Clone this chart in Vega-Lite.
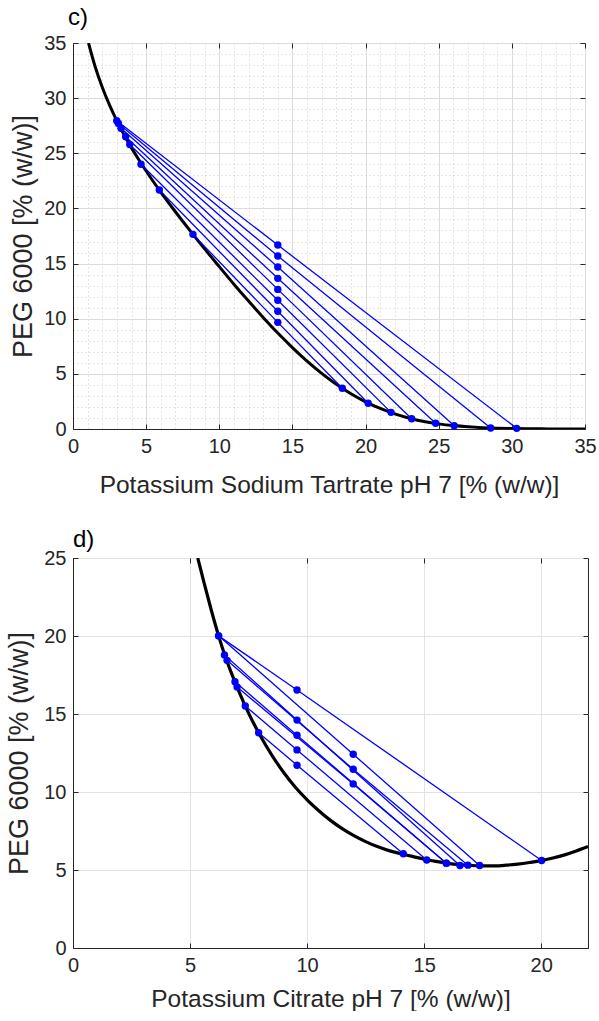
{
  "$schema": "https://vega.github.io/schema/vega-lite/v6.json",
  "background": "white",
  "padding": {"left": 5, "top": 5, "right": 0, "bottom": 0},
  "spacing": 30,
  "align": "none",
  "datasets": {
    "curveC": [
      {"x": 1.06, "y": 35.0}, {"x": 1.5, "y": 32.92}, {"x": 2, "y": 30.99}, {"x": 2.5, "y": 29.36},
      {"x": 3, "y": 27.94}, {"x": 3.5, "y": 26.66}, {"x": 4, "y": 25.49}, {"x": 4.5, "y": 24.41},
      {"x": 5, "y": 23.39}, {"x": 5.5, "y": 22.42}, {"x": 6, "y": 21.48}, {"x": 6.5, "y": 20.58},
      {"x": 7, "y": 19.7}, {"x": 7.5, "y": 18.84}, {"x": 8, "y": 17.99}, {"x": 9, "y": 16.33},
      {"x": 10, "y": 14.72}, {"x": 11, "y": 13.13}, {"x": 12, "y": 11.6}, {"x": 13, "y": 10.12},
      {"x": 14, "y": 8.7}, {"x": 15, "y": 7.38}, {"x": 16, "y": 6.15}, {"x": 17, "y": 5.04},
      {"x": 18, "y": 4.05}, {"x": 19, "y": 3.19}, {"x": 20, "y": 2.46}, {"x": 21, "y": 1.86},
      {"x": 22, "y": 1.37}, {"x": 23, "y": 0.98}, {"x": 24, "y": 0.685}, {"x": 25, "y": 0.466},
      {"x": 26, "y": 0.308}, {"x": 27, "y": 0.197}, {"x": 28, "y": 0.122}, {"x": 29, "y": 0.074},
      {"x": 30, "y": 0.043}, {"x": 31, "y": 0.024}, {"x": 32, "y": 0.013}, {"x": 33, "y": 0.006},
      {"x": 35, "y": 0.001}
    ],
    "tieC": [
      {"tie": 1, "o": 1, "x": 2.99, "y": 27.95}, {"tie": 1, "o": 2, "x": 14, "y": 16.68}, {"tie": 1, "o": 3, "x": 30.33, "y": 0.06},
      {"tie": 2, "o": 1, "x": 3.1, "y": 27.7}, {"tie": 2, "o": 2, "x": 14, "y": 15.69}, {"tie": 2, "o": 3, "x": 28.55, "y": 0.09},
      {"tie": 3, "o": 1, "x": 3.28, "y": 27.26}, {"tie": 3, "o": 2, "x": 14, "y": 14.69}, {"tie": 3, "o": 3, "x": 26.06, "y": 0.3},
      {"tie": 4, "o": 1, "x": 3.6, "y": 26.5}, {"tie": 4, "o": 2, "x": 14, "y": 13.66}, {"tie": 4, "o": 3, "x": 24.79, "y": 0.52},
      {"tie": 5, "o": 1, "x": 3.88, "y": 25.8}, {"tie": 5, "o": 2, "x": 14, "y": 12.66}, {"tie": 5, "o": 3, "x": 23.15, "y": 0.93},
      {"tie": 6, "o": 1, "x": 4.65, "y": 24.0}, {"tie": 6, "o": 2, "x": 14, "y": 11.67}, {"tie": 6, "o": 3, "x": 21.74, "y": 1.51},
      {"tie": 7, "o": 1, "x": 5.9, "y": 21.67}, {"tie": 7, "o": 2, "x": 14, "y": 10.67}, {"tie": 7, "o": 3, "x": 20.18, "y": 2.33},
      {"tie": 8, "o": 1, "x": 8.2, "y": 17.65}, {"tie": 8, "o": 2, "x": 14, "y": 9.67}, {"tie": 8, "o": 3, "x": 18.41, "y": 3.69}
    ],
    "curveD": [
      {"x": 5.33, "y": 25.0}, {"x": 5.6, "y": 23.4}, {"x": 5.9, "y": 21.7}, {"x": 6.22, "y": 20.01},
      {"x": 6.5, "y": 18.7}, {"x": 6.8, "y": 17.5}, {"x": 7.1, "y": 16.4}, {"x": 7.4, "y": 15.38},
      {"x": 7.7, "y": 14.45}, {"x": 8.0, "y": 13.6}, {"x": 8.5, "y": 12.35}, {"x": 9.0, "y": 11.25},
      {"x": 9.5, "y": 10.3}, {"x": 10.0, "y": 9.5}, {"x": 10.5, "y": 8.8}, {"x": 11.0, "y": 8.18},
      {"x": 11.5, "y": 7.65}, {"x": 12.0, "y": 7.2}, {"x": 12.5, "y": 6.82}, {"x": 13.0, "y": 6.5},
      {"x": 13.5, "y": 6.24}, {"x": 14.0, "y": 6.05}, {"x": 14.5, "y": 5.87}, {"x": 15.0, "y": 5.69},
      {"x": 15.5, "y": 5.55}, {"x": 16.0, "y": 5.43}, {"x": 16.5, "y": 5.34}, {"x": 17.0, "y": 5.29},
      {"x": 17.5, "y": 5.27}, {"x": 18.0, "y": 5.27}, {"x": 18.5, "y": 5.31}, {"x": 19.0, "y": 5.38},
      {"x": 19.5, "y": 5.48}, {"x": 20.0, "y": 5.6}, {"x": 20.5, "y": 5.77}, {"x": 21.0, "y": 5.97},
      {"x": 21.5, "y": 6.22}, {"x": 22.0, "y": 6.5}
    ],
    "tieD": [
      {"tie": 1, "o": 1, "x": 6.22, "y": 20.01}, {"tie": 1, "o": 2, "x": 9.57, "y": 16.54}, {"tie": 1, "o": 3, "x": 20.02, "y": 5.61},
      {"tie": 2, "o": 1, "x": 6.22, "y": 20.01}, {"tie": 2, "o": 2, "x": 11.97, "y": 12.42}, {"tie": 2, "o": 3, "x": 17.37, "y": 5.29},
      {"tie": 3, "o": 1, "x": 6.47, "y": 18.79}, {"tie": 3, "o": 2, "x": 9.57, "y": 14.61}, {"tie": 3, "o": 3, "x": 16.53, "y": 5.29},
      {"tie": 4, "o": 1, "x": 6.58, "y": 18.44}, {"tie": 4, "o": 2, "x": 11.97, "y": 11.46}, {"tie": 4, "o": 3, "x": 16.87, "y": 5.31},
      {"tie": 5, "o": 1, "x": 6.92, "y": 17.07}, {"tie": 5, "o": 2, "x": 9.57, "y": 13.64}, {"tie": 5, "o": 3, "x": 15.95, "y": 5.44},
      {"tie": 6, "o": 1, "x": 7.01, "y": 16.73}, {"tie": 6, "o": 2, "x": 11.97, "y": 10.52}, {"tie": 6, "o": 3, "x": 15.95, "y": 5.44},
      {"tie": 7, "o": 1, "x": 7.36, "y": 15.51}, {"tie": 7, "o": 2, "x": 9.57, "y": 12.7}, {"tie": 7, "o": 3, "x": 15.11, "y": 5.64},
      {"tie": 8, "o": 1, "x": 7.93, "y": 13.8}, {"tie": 8, "o": 2, "x": 9.57, "y": 11.72}, {"tie": 8, "o": 3, "x": 14.11, "y": 6.04}
    ]
  },
  "vconcat": [
    {
      "width": 512,
      "height": 386,
      "title": {"text": "c)", "anchor": "start", "frame": "group", "dx": -5, "fontSize": 24, "fontWeight": "normal", "color": "#000000", "offset": 3},
      "layer": [
        {
          "data": {"name": "curveC"},
          "mark": {"type": "line", "color": "#000000", "strokeWidth": 3, "interpolate": "monotone", "clip": true},
          "encoding": {
            "x": {"field": "x", "type": "quantitative", "scale": {"domain": [0, 35], "nice": false},
              "axis": {"title": "Potassium Sodium Tartrate pH 7 [% (w/w)]", "titlePadding": 17,
                "values": [0,1,2,3,4,5,6,7,8,9,10,11,12,13,14,15,16,17,18,19,20,21,22,23,24,25,26,27,28,29,30,31,32,33,34,35],
                "labelExpr": "datum.value % 5 === 0 ? datum.label : ''",
                "tickOpacity": {"condition": {"test": "datum.value % 5 !== 0", "value": 0}, "value": 1},
                "gridDash": {"condition": {"test": "datum.value % 5 === 0", "value": []}, "value": [1, 3]},
                "gridColor": {"condition": {"test": "datum.value % 5 === 0", "value": "#dcdcdc"}, "value": "#cccccc"},
                "grid": true}},
            "y": {"field": "y", "type": "quantitative", "scale": {"domain": [0, 35], "nice": false},
              "axis": {"title": "PEG 6000 [% (w/w)]", "titlePadding": 6,
                "values": [0,1,2,3,4,5,6,7,8,9,10,11,12,13,14,15,16,17,18,19,20,21,22,23,24,25,26,27,28,29,30,31,32,33,34,35],
                "labelExpr": "datum.value % 5 === 0 ? datum.label : ''",
                "tickOpacity": {"condition": {"test": "datum.value % 5 !== 0", "value": 0}, "value": 1},
                "gridDash": {"condition": {"test": "datum.value % 5 === 0", "value": []}, "value": [1, 3]},
                "gridColor": {"condition": {"test": "datum.value % 5 === 0", "value": "#dcdcdc"}, "value": "#cccccc"},
                "grid": true}}
          }
        },
        {
          "data": {"name": "tieC"},
          "mark": {"type": "line", "color": "#0000ff", "strokeWidth": 1.3},
          "encoding": {
            "x": {"field": "x", "type": "quantitative", "axis": {"orient": "top", "title": null, "labels": false, "grid": false, "domain": false, "values": [0,5,10,15,20,25,30,35]}},
            "y": {"field": "y", "type": "quantitative", "axis": {"orient": "right", "title": null, "labels": false, "grid": false, "domain": false, "values": [0,5,10,15,20,25,30,35]}},
            "detail": {"field": "tie", "type": "nominal"},
            "order": {"field": "o", "type": "quantitative"}
          }
        },
        {
          "data": {"name": "tieC"},
          "mark": {"type": "circle", "color": "#0000ff", "size": 55, "opacity": 1},
          "encoding": {
            "x": {"field": "x", "type": "quantitative", "axis": null},
            "y": {"field": "y", "type": "quantitative", "axis": null}
          }
        }
      ],
      "resolve": {"axis": {"x": "independent", "y": "independent"}}
    },
    {
      "width": 515,
      "height": 390,
      "title": {"text": "d)", "anchor": "start", "frame": "group", "dx": 0, "fontSize": 24, "fontWeight": "normal", "color": "#000000", "offset": -4},
      "layer": [
        {
          "data": {"name": "curveD"},
          "mark": {"type": "line", "color": "#000000", "strokeWidth": 3.2, "interpolate": "monotone", "clip": true},
          "encoding": {
            "x": {"field": "x", "type": "quantitative", "scale": {"domain": [0, 22], "nice": false},
              "axis": {"title": "Potassium Citrate pH 7 [% (w/w)]", "titlePadding": 12, "values": [0, 5, 10, 15, 20], "grid": true, "gridColor": "#e3e3e3"}},
            "y": {"field": "y", "type": "quantitative", "scale": {"domain": [0, 25], "nice": false},
              "axis": {"title": "PEG 6000 [% (w/w)]", "values": [0, 5, 10, 15, 20, 25], "grid": true, "gridColor": "#e3e3e3", "titlePadding": 10}}
          }
        },
        {
          "data": {"name": "tieD"},
          "mark": {"type": "line", "color": "#0000ff", "strokeWidth": 1.3},
          "encoding": {
            "x": {"field": "x", "type": "quantitative", "axis": {"orient": "top", "title": null, "labels": false, "grid": false, "domain": false, "values": [0, 5, 10, 15, 20]}},
            "y": {"field": "y", "type": "quantitative", "axis": {"orient": "right", "title": null, "labels": false, "grid": false, "domain": false, "values": [0, 5, 10, 15, 20, 25]}},
            "detail": {"field": "tie", "type": "nominal"},
            "order": {"field": "o", "type": "quantitative"}
          }
        },
        {
          "data": {"name": "tieD"},
          "mark": {"type": "circle", "color": "#0000ff", "size": 55, "opacity": 1},
          "encoding": {
            "x": {"field": "x", "type": "quantitative", "axis": null},
            "y": {"field": "y", "type": "quantitative", "axis": null}
          }
        }
      ],
      "resolve": {"axis": {"x": "independent", "y": "independent"}}
    }
  ],
  "config": {
    "font": "Liberation Sans",
    "view": {"stroke": "#262626", "strokeWidth": 1},
    "title": {"font": "Liberation Sans"},
    "axis": {
      "labelFont": "Liberation Sans",
      "labelFontSize": 20,
      "labelColor": "#262626",
      "labelFlush": false,
      "labelOverlap": false,
      "labelPadding": 12,
      "titleFont": "Liberation Sans",
      "titleFontSize": 24.5,
      "titleFontWeight": "normal",
      "titleColor": "#262626",
      "titlePadding": 9,
      "domainColor": "#262626",
      "tickColor": "#262626",
      "tickSize": -5,
      "gridWidth": 1
    },
    "axisY": {"titleFontSize": 27}
  }
}
